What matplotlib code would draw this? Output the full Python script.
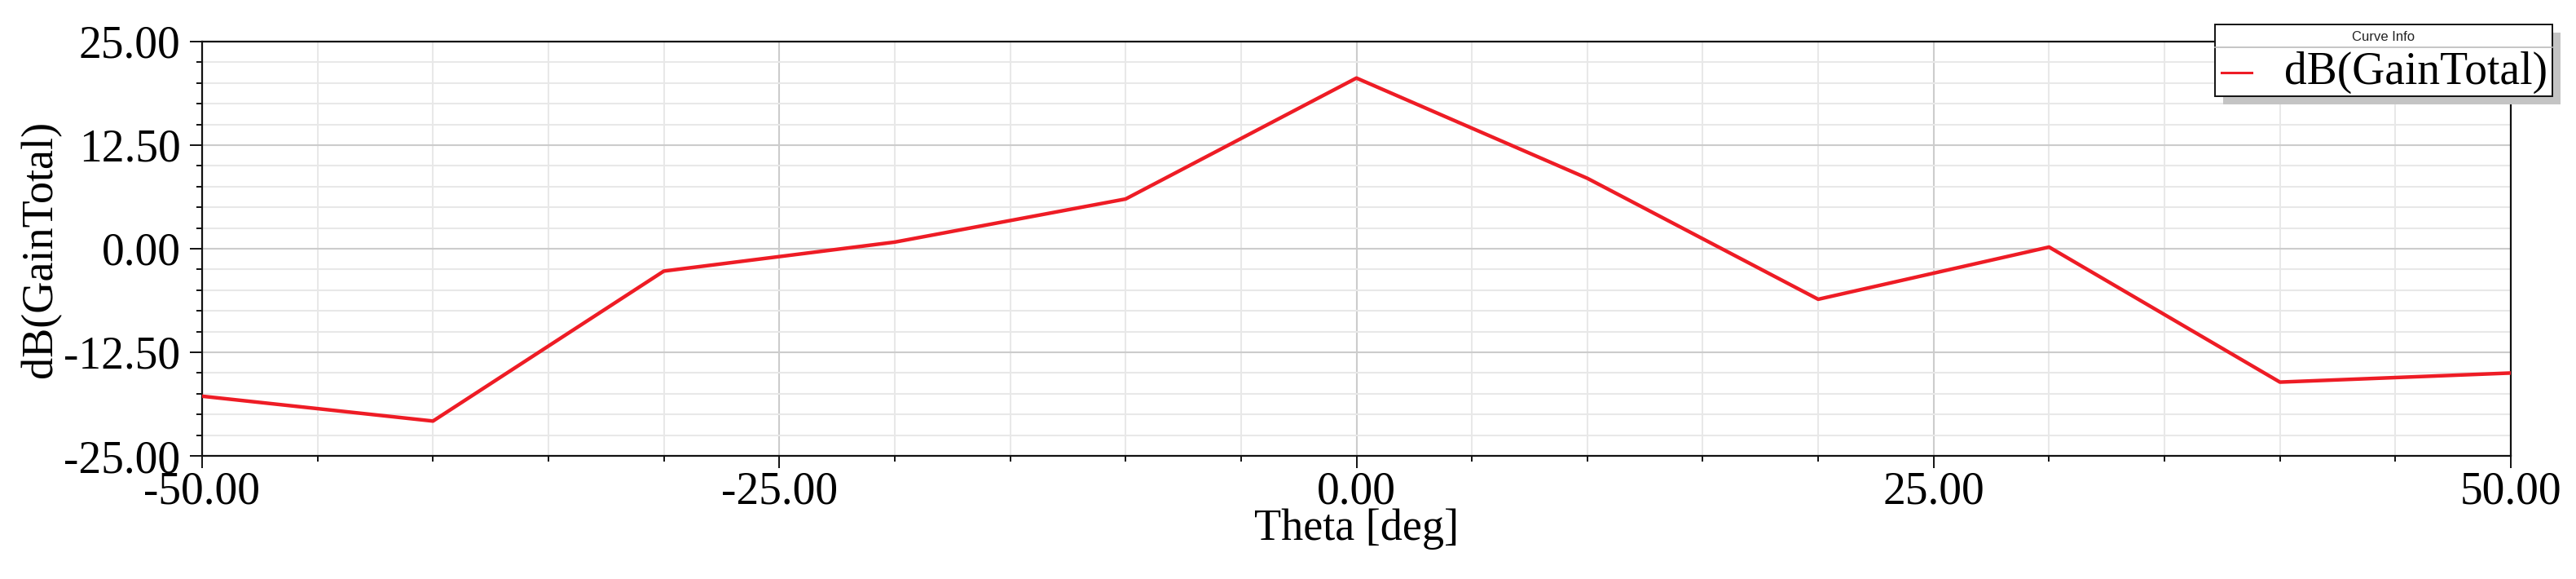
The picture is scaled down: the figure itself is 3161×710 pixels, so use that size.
import matplotlib
matplotlib.use("Agg")
import matplotlib.pyplot as plt
from matplotlib.patches import Rectangle
from matplotlib.lines import Line2D
from matplotlib.ticker import MultipleLocator, FormatStrFormatter

theta_deg = [-50, -40, -30, -20, -10, 0, 10, 20, 30, 40, 50]
gain_db = [-17.8, -20.8, -2.7, 0.8, 6.0, 20.6, 8.5, -6.1, 0.2, -16.1, -15.0]
series_name = "dB(GainTotal)"
x_label = "Theta [deg]"
y_label = "dB(GainTotal)"
legend_title = "Curve Info"

W, H = 3161, 710
DPI = 100
fig = plt.figure(figsize=(W / DPI, H / DPI), dpi=DPI)
serif = ["Liberation Serif", "DejaVu Serif"]

L, R, T, B = 248, 3081, 51, 559
ax = fig.add_axes([L / W, 1 - B / H, (R - L) / W, (B - T) / H])

ax.plot(theta_deg, gain_db, color="#ee1c25", lw=3.2, zorder=3)
ax.set_xlim(-50, 50)
ax.set_ylim(-25, 25)
ax.xaxis.set_major_locator(MultipleLocator(25))
ax.xaxis.set_minor_locator(MultipleLocator(5))
ax.yaxis.set_major_locator(MultipleLocator(12.5))
ax.yaxis.set_minor_locator(MultipleLocator(2.5))
ax.xaxis.set_major_formatter(FormatStrFormatter("%.2f"))
ax.yaxis.set_major_formatter(FormatStrFormatter("%.2f"))

ax.grid(which="major", color="#cccccc", lw=1.5, zorder=0)
ax.grid(which="minor", color="#e8e8e8", lw=1.5, zorder=0)
ax.set_axisbelow(True)
for s in ax.spines.values():
    s.set_linewidth(1.6)
    s.set_color("#111111")

ax.tick_params(axis="both", which="major", direction="out", length=11, width=1.4,
               labelsize=40, colors="#111111", labelcolor="black")
ax.tick_params(axis="both", which="minor", direction="out", length=5, width=1.4, colors="#111111")
ax.tick_params(axis="y", which="major", pad=8)
ax.tick_params(axis="x", which="major", pad=2)
for lab in ax.get_xticklabels() + ax.get_yticklabels():
    lab.set_fontfamily(serif)

ax.set_xlabel(x_label, fontsize=39, family=serif, labelpad=-4)
ax.set_ylabel(y_label, fontsize=39, family=serif, labelpad=2)

# legend box ("Curve Info")
bx0, bx1, by0, by1 = 2718, 3132, 30, 118
sh = 10
def fx(px):
    return px / W
def fy(py):
    return 1 - py / H
fig.patches.append(Rectangle((fx(bx0 + sh), fy(by1 + sh)), fx(bx1 - bx0), (by1 - by0) / H,
                             transform=fig.transFigure, facecolor="#c4c4c4", edgecolor="none", zorder=10))
fig.patches.append(Rectangle((fx(bx0), fy(by1)), fx(bx1 - bx0), (by1 - by0) / H,
                             transform=fig.transFigure, facecolor="white", edgecolor="#111111",
                             lw=1.4, zorder=11))
fig.lines.append(Line2D([fx(bx0), fx(bx1)], [fy(58), fy(58)], transform=fig.transFigure,
                        color="#bbbbbb", lw=1.2, zorder=12))
fig.text(fx((bx0 + bx1) / 2), fy(45), legend_title, ha="center", va="center",
         fontsize=12, family=["Liberation Sans", "DejaVu Sans"], color="#222222", zorder=13)
fig.lines.append(Line2D([fx(2726), fx(2763)], [fy(89), fy(89)], transform=fig.transFigure,
                        color="#ee1c25", lw=2.2, zorder=13))
fig.text(fx(3126), fy(89), series_name, ha="right", va="center",
         fontsize=40, family=serif, color="black", zorder=13)

fig.savefig("out.png", dpi=DPI)
